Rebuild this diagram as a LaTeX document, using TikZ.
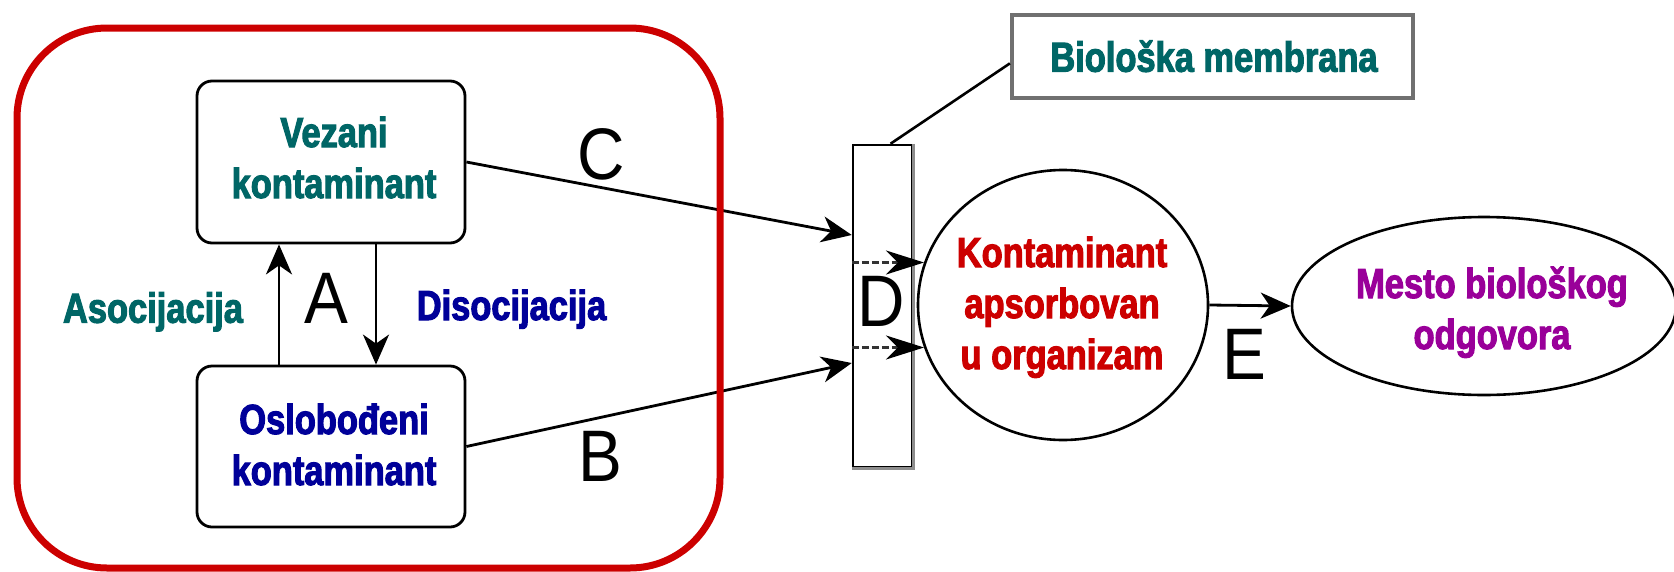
\documentclass[tikz,border=0pt]{standalone}
\usepackage{fontspec}
\newfontfamily\narbold[FakeStretch=0.82,FakeBold=2.5]{Liberation Sans}
\newfontfamily\letfont[FakeStretch=0.9]{Liberation Sans}
\usetikzlibrary{arrows.meta,shapes.geometric,calc}
\definecolor{tealtx}{HTML}{006666}
\definecolor{bluetx}{HTML}{000099}
\definecolor{redtx}{HTML}{CC0000}
\definecolor{purptx}{HTML}{990099}
\definecolor{framered}{HTML}{CC0000}
\definecolor{graybd}{HTML}{707070}
\tikzset{
  boxnode/.style={draw=black, line width=2.8pt, rounded corners=15pt, inner sep=0pt},
  membr/.style={draw=black, line width=2.5pt, inner sep=0pt},
  biobox/.style={draw=graybd, line width=4pt, inner sep=0pt},
  ellnode/.style={draw=black, ellipse, line width=2.6pt, inner sep=0pt},
  framebox/.style={draw=framered, line width=7pt, rounded corners=90pt, inner sep=0pt},
  txt/.style={font=\narbold\bfseries\fontsize{42}{51}\selectfont, inner sep=0pt, anchor=base},
  letter/.style={font=\letfont\fontsize{73}{80}\selectfont, inner sep=0pt, anchor=base},
  conn/.style={line width=2.8pt, -{Stealth[length=30pt,width=26pt,inset=9pt]}},
  dasharr/.style={line width=2.6pt, black!80, dash pattern=on 7pt off 3pt, -{Stealth[length=38pt,width=24pt,inset=12pt,black]}},
  leader/.style={line width=2.6pt}
}
\begin{document}
\begin{tikzpicture}[x=1pt,y=-1pt]
\useasboundingbox (0,0) rectangle (1674,571);
% shapes
\node[boxnode, minimum width=268pt, minimum height=162pt] (vez) at (331,162) {};
\node[boxnode, minimum width=268pt, minimum height=161pt] (osl) at (331,446.5) {};
\node[membr, minimum width=59pt, minimum height=322pt] (mem) at (882.5,306) {};
\node[biobox, minimum width=401pt, minimum height=83pt] (bio) at (1212.4,56.4) {};
\node[ellnode, minimum width=290pt, minimum height=270pt] (kont) at (1063,305) {};
\node[ellnode, minimum width=384pt, minimum height=178pt] (mesto) at (1484,306) {};
\draw[graybd!80, line width=2.5pt] (mem.north east) -- (mem.south east) -- (mem.south west);
% texts
\node[txt, text=tealtx] (tvez) at (334,147) {\begin{tabular}[t]{@{}c@{}}Vezani\\kontaminant\end{tabular}};
\node[txt, text=bluetx] (tosl) at (334,434) {\begin{tabular}[t]{@{}c@{}}Oslobođeni\\kontaminant\end{tabular}};
\node[txt, text=tealtx] (tasoc) at (153,322.7) {Asocijacija};
\node[txt, text=bluetx] (tdisoc) at (511.5,320) {Disocijacija};
\node[txt, text=tealtx] (tbio) at (1214,71.7) {Biološka membrana};
\node[txt, text=redtx] (tkont) at (1062,267) {\begin{tabular}[t]{@{}c@{}}Kontaminant\\apsorbovan\\u organizam\end{tabular}};
\node[txt, text=purptx] (tmesto) at (1492,298) {\begin{tabular}[t]{@{}c@{}}Mesto biološkog\\odgovora\end{tabular}};
% letters
\node[letter] (la) at (326,323) {A};
\node[letter] (lc) at (601,179) {C};
\node[letter] (lb) at (600.5,481) {B};
\node[letter] (ld) at (881,326) {D};
\node[letter] (le) at (1244,379) {E};
% connectors
\coordinate (ax) at (279,0);
\coordinate (dx) at (376,0);
\coordinate (cy) at (0,235);
\coordinate (by) at (0,363);
\draw[conn] (osl.north -| ax) -- (vez.south -| ax);
\draw[conn] (vez.south -| dx) -- (osl.north -| dx);
\draw[conn] (vez.east) -- (mem.west |- cy);
\draw[conn] (osl.east) -- (mem.west |- by);
\draw[dasharr] (mem.west |- kont.163) -- (kont.163);
\draw[dasharr] (mem.west |- kont.197) -- (kont.197);
\draw[conn] (kont.east) -- (mesto.west);
\draw[leader] ($(mem.north west)!0.63!(mem.north east)$) -- ($(bio.north west)!0.58!(bio.south west)$);
% frame
\node[framebox, minimum width=703pt, minimum height=540pt] (grp) at (368.5,298) {};
\end{tikzpicture}
\end{document}
